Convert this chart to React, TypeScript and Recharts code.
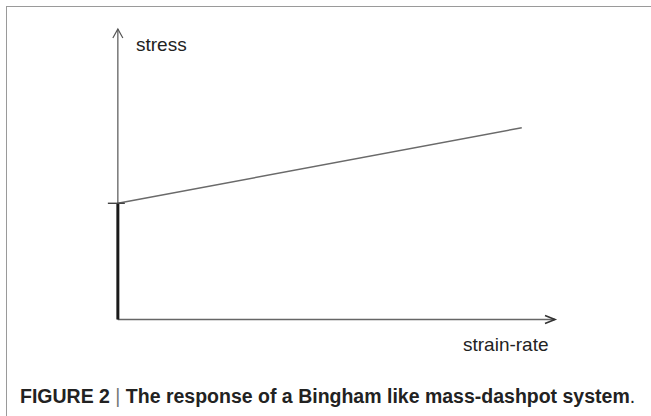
import React from 'react';
import { LineChart, Line, XAxis, YAxis, ReferenceDot, ReferenceLine } from 'recharts';

// axis domains (arbitrary units, the figure has no scale); a little room below/left of 0
const xDomain = [-0.5, 10];
const yDomain = [-0.5, 10];

// Bingham response: yield stress then linear rise with strain-rate
const slopeLine = [
    { x: 0, y: 4 },
    { x: 9.24, y: 6.6 },
];

// the vertical jump at zero strain-rate
const yieldJump = [
    { x: 0, y: 0 },
    { x: 0, y: 4 },
];

const yieldStress = 4;
const xLabel = 'strain-rate';
const yLabel = 'stress';

const axisColor = '#555';

const ArrowUp = (props: any) => (
    <path d={`M${props.cx - 5},${props.cy + 9} L${props.cx},${props.cy} L${props.cx + 5},${props.cy + 9}`}
        stroke={axisColor} strokeWidth={1.2} fill="none" />
);

const ArrowRight = (props: any) => (
    <path d={`M${props.cx - 10},${props.cy - 4} L${props.cx},${props.cy} L${props.cx - 10},${props.cy + 4}`}
        stroke="#333" strokeWidth={1.6} fill="none" />
);

const YieldTick = (props: any) => (
    <line x1={props.cx - 10} y1={props.cy} x2={props.cx + 7} y2={props.cy} stroke="#444" strokeWidth={1.4} />
);

export default function App() {
    return (
        <div style={{ position: 'absolute', left: 0, top: 0, width: 651, height: 416, background: '#fff', overflow: 'hidden', fontFamily: "'Liberation Sans', Arial, sans-serif" }}>
            {/* figure frame */}
            <div style={{ position: 'absolute', left: 6, top: 6, width: 700, height: 500, borderLeft: '1.5px solid #9a9a9a', borderTop: '1.5px solid #9a9a9a' }} />

            <div style={{ position: 'absolute', left: 0, top: 0 }}>
                <LineChart width={651} height={416} margin={{ top: 29, left: 96, right: 96, bottom: 82 }}>
                    <XAxis type="number" dataKey="x" domain={xDomain} height={0} hide allowDataOverflow />
                    <YAxis type="number" dataKey="y" domain={yDomain} width={0} hide allowDataOverflow />
                    {/* axes drawn through the origin */}
                    <ReferenceLine stroke={axisColor} strokeWidth={1.2} segment={[{ x: 0, y: 0 }, { x: 0, y: yDomain[1] }]} ifOverflow="visible" />
                    <ReferenceLine stroke="#666" strokeWidth={1.6} segment={[{ x: 0, y: 0 }, { x: xDomain[1], y: 0 }]} ifOverflow="visible" />
                    <Line data={yieldJump} dataKey="y" stroke="#1a1a1a" strokeWidth={3} dot={false} isAnimationActive={false} />
                    <Line data={slopeLine} dataKey="y" stroke="#6a6a6a" strokeWidth={1.5} dot={false} isAnimationActive={false} />
                    <ReferenceDot x={0} y={yDomain[1]} shape={ArrowUp} ifOverflow="visible" />
                    <ReferenceDot x={xDomain[1]} y={0} shape={ArrowRight} ifOverflow="visible" />
                    <ReferenceDot x={0} y={yieldStress} shape={YieldTick} ifOverflow="visible" />
                </LineChart>
            </div>

            <div style={{ position: 'absolute', left: 136, top: 34, fontSize: 19, color: '#222' }}>{yLabel}</div>
            <div style={{ position: 'absolute', left: 463, top: 334, fontSize: 19, color: '#222' }}>{xLabel}</div>

            <div style={{ position: 'absolute', left: 20, top: 385, fontSize: 20, fontWeight: 'bold', color: '#222', whiteSpace: 'nowrap', transform: 'scaleX(0.975)', transformOrigin: 'left' }}>
                FIGURE 2 <span style={{ fontWeight: 300, color: '#777' }}>|</span> The response of a Bingham like mass-dashpot system<span style={{ fontWeight: 'normal' }}>.</span>
            </div>
        </div>
    );
}
